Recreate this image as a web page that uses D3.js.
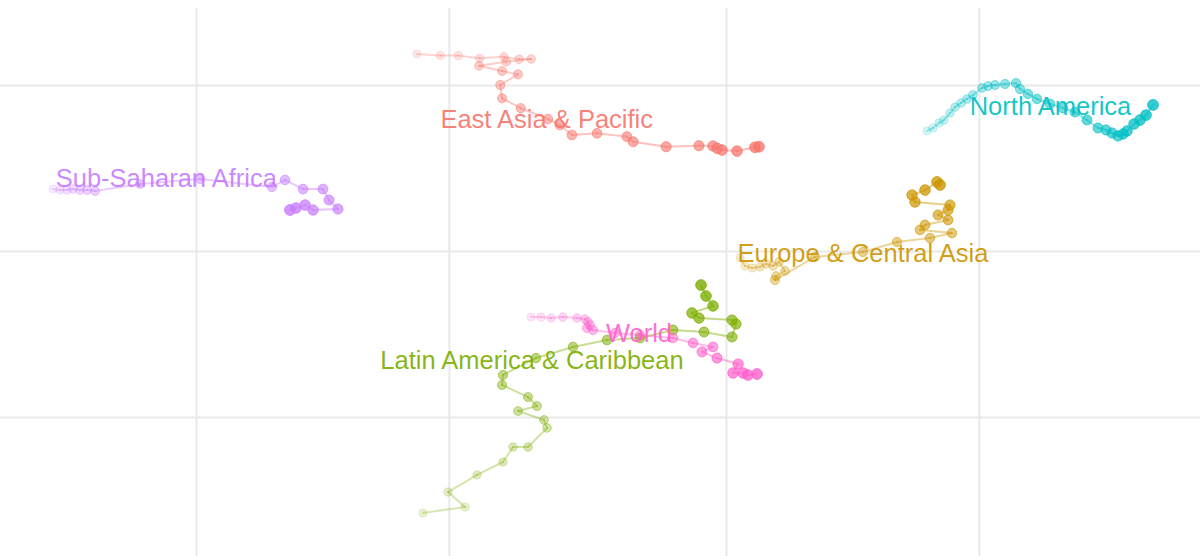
<!DOCTYPE html>
<html>
<head>
<meta charset="utf-8">
<script src="https://cdn.jsdelivr.net/npm/d3@7"></script>
<style>
  html, body { margin: 0; padding: 0; background: #ffffff; }
  svg { display: block; }
</style>
</head>
<body>
<svg id="chart" width="1200" height="556"></svg>
<script>
// ---- Data (x on a log scale, y linear; years run from first to last point) ----
const regions = ["East Asia & Pacific", "Europe & Central Asia", "Latin America & Caribbean",
                 "North America", "Sub-Saharan Africa", "World"];
const regionColors = ["#F8766D", "#CD9600", "#7CAE00", "#00BFC4", "#C77CFF", "#FF61CC"];

const eastAsiaPacific = [
  [2610,31.87],[2890,31.77],[3125,31.77],[3430,31.61],[3810,31.70],[4070,31.55],[4290,31.57],
  [3850,31.40],[3420,31.16],[3780,30.84],[4050,30.64],[3750,30.00],[3780,29.20],[4100,28.60],
  [4615,27.95],[4860,27.59],[5120,26.99],[5710,27.09],[6500,26.89],[6680,26.58],[7710,26.28],
  [8890,26.34],[9450,26.33],[9620,26.19],[9830,26.08],[10490,26.02],[11340,26.25],[11540,26.28]
];
const europeCentralAsia = [
  [10630,19.58],[10860,19.10],[11200,18.98],[11590,19.04],[11900,19.22],[12270,19.10],[12590,19.34],
  [12920,18.80],[12430,18.49],[12370,18.25],[14720,19.64],[18130,19.94],[21020,20.54],[24260,20.78],
  [26690,21.08],[23230,21.27],[23740,21.57],[26240,21.87],[25120,22.17],[26240,22.47],[26460,22.77],
  [22730,22.95],[22440,23.37],[23740,23.67],[25010,24.16],[25340,23.98]
];
const latinAmericaCaribbean = [
  [2681,4.22],[3218,4.58],[2989,5.48],[3390,6.51],[3795,7.29],[3964,8.19],[4231,8.19],
  [4595,9.34],[4535,9.82],[4051,10.36],[4399,10.66],[4231,11.20],[3779,11.93],[3795,12.53],
  [4380,13.55],[5144,14.22],[5963,14.64],[6882,14.76],[7943,15.24],[9089,15.12],[10265,14.82],
  [10445,15.60],[10265,15.84],[8894,15.96],[8627,16.27],[9451,16.69],[9168,17.29],[8972,17.95]
];
const northAmerica = [
  [23950,27.23],[24580,27.41],[25230,27.71],[25780,27.89],[26460,28.31],[27050,28.67],[27760,28.92],
  [28490,29.16],[29240,29.40],[30410,29.82],[31210,29.94],[32180,30.00],[33610,30.06],[35250,30.12],
  [35870,29.76],[37130,29.46],[38620,29.16],[40860,28.86],[43240,28.61],[45550,28.37],[47990,27.89],
  [50340,27.41],[52120,27.29],[53500,27.11],[54910,26.93],[56120,27.05],[57100,27.23],[58860,27.65],
  [60420,27.89],[62010,28.19],[63930,28.80]
];
const subSaharanAfrica = [
  [537,23.73],[554,23.67],[571,23.67],[586,23.73],[604,23.67],[623,23.67],[645,23.61],
  [784,24.04],[1018,24.34],[1391,23.86],[1472,24.28],[1592,23.73],[1736,23.73],[1782,23.07],
  [1853,22.53],[1663,22.47],[1606,22.77],[1544,22.59],[1504,22.47]
];
const world = [
  [4286,16.02],[4477,16.02],[4675,15.96],[4925,16.02],[5234,15.96],[5419,15.90],[5490,15.72],
  [5538,15.54],[5466,15.36],[5611,15.24],[6174,15.06],[6882,14.94],[7943,14.76],[8665,14.46],
  [9451,14.22],[9011,13.92],[9617,13.55],[10540,13.19],[10310,12.65],[10770,12.65],[11000,12.53],
  [11440,12.59]
];
const regionData = [eastAsiaPacific, europeCentralAsia, latinAmericaCaribbean,
                    northAmerica, subSaharanAfrica, world];

// label anchor points (data units)
const labelX = [4589, 18130, 4305, 40950, 879, 6852];
const labelY = [27.93, 19.90, 13.43, 28.73, 24.39, 15.08];

// gridline breaks
const xBreaks = [1000, 3000, 10000, 30000];
const yBreaks = [10, 20, 30];

// ---- Drawing ----
const W = 1200, H = 556, panelTop = 8;
const svg = d3.select("#chart");

const x = d3.scaleLog().domain([1000, 10000]).range([196, 726]);
const y = d3.scaleLinear().domain([10, 30]).range([417, 85]);

const grid = svg.append("g");
grid.append("g").attr("transform", `translate(0,${panelTop})`)
  .call(d3.axisTop(x).tickValues(xBreaks).tickSize(-(H - panelTop)).tickFormat(""));
grid.append("g").attr("transform", "translate(0,0)")
  .call(d3.axisLeft(y).tickValues(yBreaks).tickSize(-W).tickFormat(""));
grid.selectAll(".domain").remove();
grid.selectAll(".tick line").attr("stroke", "#E9E9EC").attr("stroke-width", 2);

const rScale = d3.scaleLinear().domain([0, 1]).range([4.0, 5.4]);
const aScale = d3.scaleLinear().domain([0, 1]).range([0.16, 0.8]);
const lineAlpha = d3.scaleLinear().domain([0, 1]).range([0.3, 0.5]);

regionData.forEach((pts, si) => {
  const col = regionColors[si];
  const g = svg.append("g");
  const n = pts.length;
  const segs = d3.pairs(pts.map((p, i) => ({p, t: i / (n - 1)})));
  g.selectAll("line.seg").data(segs).join("line")
    .attr("class", "seg")
    .attr("x1", d => x(d[0].p[0])).attr("y1", d => y(d[0].p[1]))
    .attr("x2", d => x(d[1].p[0])).attr("y2", d => y(d[1].p[1]))
    .attr("stroke", col).attr("stroke-width", 2)
    .attr("stroke-opacity", d => lineAlpha(d[1].t))
    .attr("stroke-linecap", "round");
  g.selectAll("circle").data(pts.map((p, i) => ({p, t: i / (n - 1)}))).join("circle")
    .attr("cx", d => x(d.p[0])).attr("cy", d => y(d.p[1]))
    .attr("r", d => rScale(d.t))
    .attr("fill", col).attr("fill-opacity", d => aScale(d.t))
    .attr("stroke", col).attr("stroke-opacity", d => Math.min(1, aScale(d.t) * 1.4))
    .attr("stroke-width", 0.8);
});

svg.append("g").selectAll("text").data(regions).join("text")
  .attr("x", (d, i) => x(labelX[i]))
  .attr("y", (d, i) => y(labelY[i]))
  .attr("dy", "0.35em")
  .attr("text-anchor", "middle")
  .attr("font-family", "'Liberation Sans', Arial, Helvetica, sans-serif")
  .attr("font-size", 25.5)
  .attr("fill", (d, i) => regionColors[i])
  .attr("fill-opacity", 0.92)
  .text(d => d);
</script>
</body>
</html>
